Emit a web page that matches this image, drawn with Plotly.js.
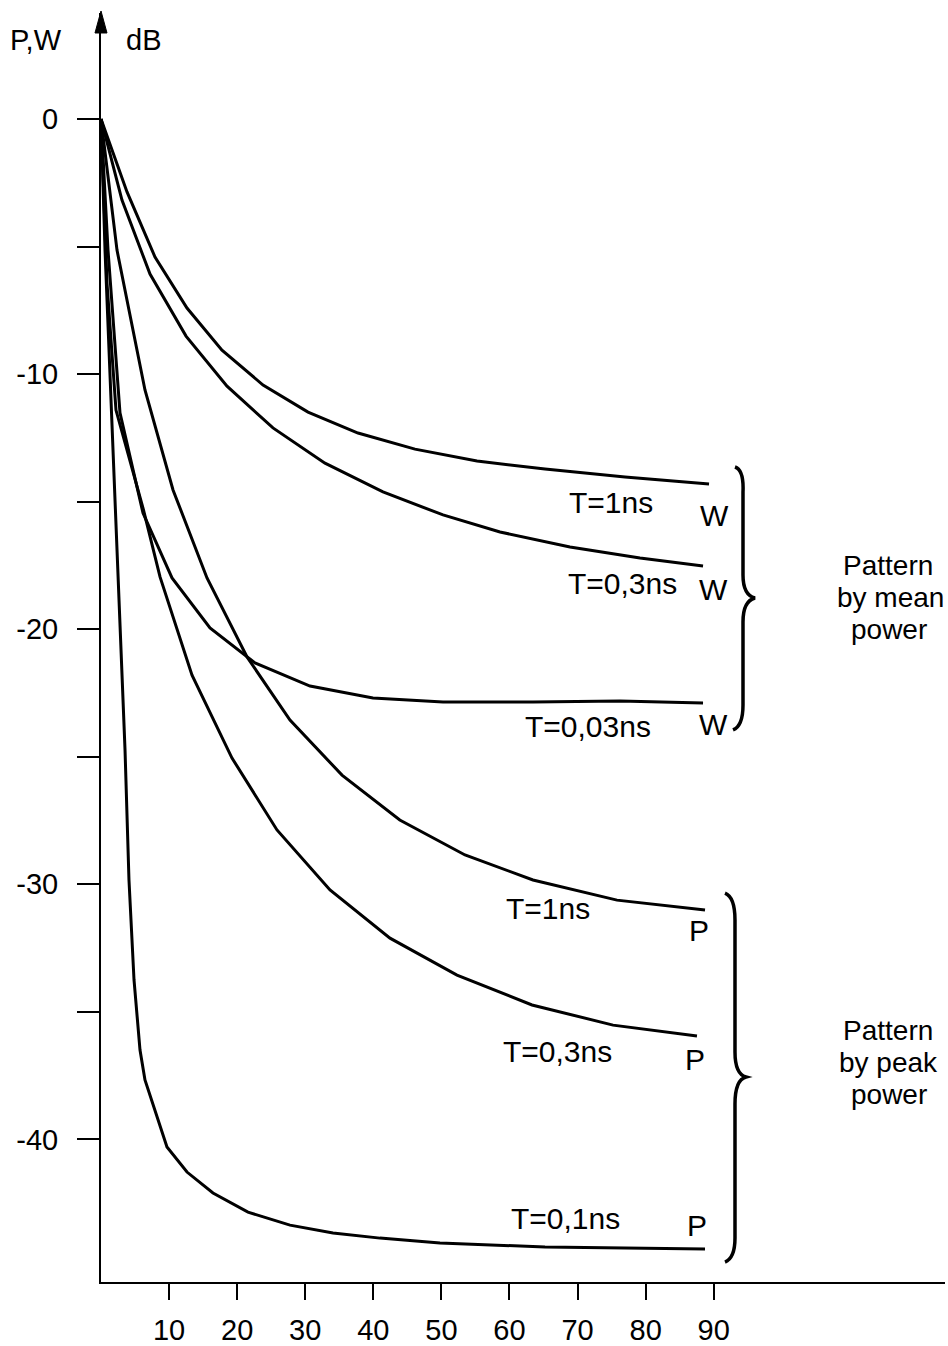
<!DOCTYPE html>
<html>
<head>
<meta charset="utf-8">
<script src="https://cdn.plot.ly/plotly-3.0.1.min.js"></script>
<style>html,body{margin:0;padding:0;background:#fff;}#chart{width:948px;height:1346px;}</style>
</head>
<body>
<div id="chart"></div>
<script>
// ---- Data (angle in degrees, level in dB) ----
const w1ns_x   = [0, 3.82, 7.93, 12.63, 17.77, 23.80, 30.41, 37.75, 46.12, 55.23, 65.22, 76.97, 89.31];
const w1ns_y   = [0, -2.86, -5.41, -7.41, -9.06, -10.43, -11.49, -12.31, -12.94, -13.41, -13.72, -14.03, -14.31];

const w03ns_x  = [0, 3.08, 7.20, 12.49, 18.51, 25.26, 32.90, 41.42, 50.24, 58.61, 68.89, 79.17, 88.43];
const w03ns_y  = [0, -3.18, -6.08, -8.51, -10.47, -12.11, -13.49, -14.62, -15.52, -16.19, -16.78, -17.21, -17.52];

const w003ns_x = [0, 1.03, 2.79, 6.17, 10.43, 16.01, 22.62, 30.70, 39.95, 50.24, 63.45, 76.23, 88.43];
const w003ns_y = [0, -5.14, -11.52, -15.45, -17.99, -19.95, -21.32, -22.23, -22.70, -22.85, -22.85, -22.81, -22.89];

const p1ns_x   = [0, 2.35, 6.46, 10.58, 15.57, 21.45, 27.76, 35.40, 43.89, 53.47, 63.45, 75.79, 88.72];
const p1ns_y   = [0, -5.14, -10.62, -14.54, -17.99, -21.09, -23.56, -25.72, -27.48, -28.85, -29.83, -30.62, -31.01];

const p03ns_x  = [0, 0.88, 2.20, 6.17, 8.67, 13.37, 19.24, 25.85, 33.64, 42.45, 52.29, 63.31, 75.21, 87.54];
const p03ns_y  = [0, -6.43, -11.41, -15.25, -17.95, -21.80, -25.05, -27.87, -30.22, -32.11, -33.56, -34.73, -35.52, -35.95];

const p01ns_x  = [0, 0.59, 3.53, 4.11, 4.85, 5.73, 6.46, 7.49, 8.23, 9.69, 12.63, 16.45, 21.59, 27.76, 34.08, 40.98, 49.79, 65.22, 88.72];
const p01ns_y  = [0, -5.14, -24.74, -29.83, -33.75, -36.50, -37.67, -38.53, -39.12, -40.30, -41.28, -42.10, -42.85, -43.36, -43.67, -43.87, -44.06, -44.22, -44.30];

const xTickVals  = [10, 20, 30, 40, 50, 60, 70, 80, 90];
const yTickVals  = [0, -5, -10, -15, -20, -25, -30, -35, -40];
const yTickText  = ['0', '', '-10', '', '-20', '', '-30', '', '-40'];

// ---- Layout helpers (pixel -> paper) ----
const L = 101, R = 945, T = 13, B = 1282;
const px = v => (v - L) / (R - L);
const py = v => (B - v) / (B - T);
const FONT = 'Liberation Sans, Arial, sans-serif';

const series = [[w1ns_x,w1ns_y],[w03ns_x,w03ns_y],[w003ns_x,w003ns_y],[p1ns_x,p1ns_y],[p03ns_x,p03ns_y],[p01ns_x,p01ns_y]];
const traces = series.map(s => ({
  x: s[0], y: s[1], type: 'scatter', mode: 'lines',
  line: {color: '#000', width: 3}, hoverinfo: 'skip', showlegend: false
}));

function txt(t, x, y, size, anchor) {
  return {text: t, xref: 'paper', yref: 'paper', x: px(x), y: py(y), showarrow: false,
    xanchor: anchor || 'center', yanchor: 'middle', font: {family: FONT, size: size || 30, color: '#000'}};
}
const annotations = [
  txt('P,W', 36, 40, 29), txt('dB', 143, 40, 29),
  txt('T=1ns', 611, 502), txt('W', 714, 515),
  txt('T=0,3ns', 622, 583), txt('W', 713, 589),
  txt('T=0,03ns', 588, 726), txt('W', 713, 724),
  txt('T=1ns', 548, 908), txt('P', 699, 930),
  txt('T=0,3ns', 557, 1051), txt('P', 695, 1059),
  txt('T=0,1ns', 565, 1218), txt('P', 697, 1225),
  txt('Pattern', 888, 565, 28), txt('by mean', 890, 597, 28), txt('power', 889, 629, 28),
  txt('Pattern', 888, 1030, 28), txt('by peak', 888, 1062, 28), txt('power', 889, 1094, 28)
];

function pathPx(pts) {
  return pts.map(p => p[0] + ' ' + p.slice(1).map((v,i) => i % 2 === 0 ? px(v).toFixed(5) : py(v).toFixed(5)).join(',')).join(' ');
}
const braceTop = pathPx([
  ['M',735,467],['Q',744,470,743,492],['L',743,575],['Q',743,595,755,598],
  ['Q',743,601,743,622],['L',743,705],['Q',743,726,733,730]
]);
const braceBot = pathPx([
  ['M',725,893],['Q',735,897,735,920],['L',735,1052],['Q',735,1074,746,1077],
  ['Q',735,1080,735,1104],['L',735,1238],['Q',735,1258,725,1262]
]);
const arrow = pathPx([['M',101,11],['L',95,33],['L',107,33],['Z']]);

const shapes = [
  {type:'path', xref:'paper', yref:'paper', path: braceTop, line:{color:'#000', width:3.5}},
  {type:'path', xref:'paper', yref:'paper', path: braceBot, line:{color:'#000', width:3.5}},
  {type:'path', xref:'paper', yref:'paper', path: arrow, fillcolor:'#000', line:{color:'#000', width:1}}
];

const layout = {
  width: 948, height: 1346,
  margin: {l: L, r: 948 - R, t: T, b: 1346 - B, pad: 0},
  paper_bgcolor: '#fff', plot_bgcolor: '#fff',
  showlegend: false,
  font: {family: FONT, color: '#000', size: 29},
  xaxis: {
    range: [0, (R - L) / 6.808], tickmode: 'array', tickvals: xTickVals,
    ticks: 'outside', ticklen: 16, tickwidth: 2, tickcolor: '#000',
    showline: true, linecolor: '#000', linewidth: 2, mirror: false,
    showgrid: false, zeroline: false, ticklabelstandoff: 5,
    tickfont: {family: FONT, size: 29, color: '#000'}, fixedrange: true
  },
  yaxis: {
    range: [-(B - 119) / 25.51, (119 - T) / 25.51], tickmode: 'array',
    tickvals: yTickVals, ticktext: yTickText,
    ticks: 'outside', ticklen: 22, tickwidth: 2, tickcolor: '#000',
    showline: true, linecolor: '#000', linewidth: 2,
    showgrid: false, zeroline: false, ticklabelstandoff: 13,
    tickfont: {family: FONT, size: 29, color: '#000'}, fixedrange: true
  },
  annotations: annotations,
  shapes: shapes
};

Plotly.newPlot('chart', traces, layout, {staticPlot: true, displayModeBar: false});
</script>
</body>
</html>
